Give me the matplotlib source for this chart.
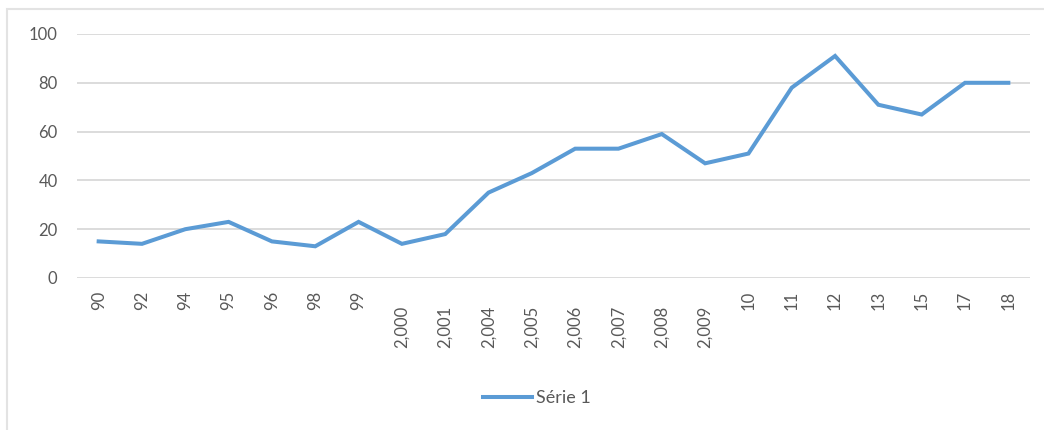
import matplotlib
matplotlib.use("Agg")
import matplotlib.pyplot as plt
from matplotlib.patches import Rectangle
from matplotlib.transforms import blended_transform_factory, offset_copy

plt.rcParams['font.family'] = ['Lato', 'DejaVu Sans']

# Year labels as shown on the category axis
categories = ["90", "92", "94", "95", "96", "98", "99", "2,000", "2,001",
              "2,004", "2,005", "2,006", "2,007", "2,008", "2,009",
              "10", "11", "12", "13", "15", "17", "18"]
serie1 = [15, 14, 20, 23, 15, 13, 23, 14, 18, 35, 43, 53, 53, 59, 47,
          51, 78, 91, 71, 67, 80, 80]
yticks = [0, 20, 40, 60, 80, 100]
series_name = "Série 1"

W, H, DPI = 1044, 430, 100
TEXT = "#595959"
GRID = "#D9D9D9"
BLUE = "#5B9BD5"
FS = 12

fig = plt.figure(figsize=(W / DPI, H / DPI), dpi=DPI)
fig.patch.set_facecolor("white")

# Light chart-area border
fig.patches.append(Rectangle((7 / W, 1 - 1000 / H), 1100 / W, (1000 - 9) / H,
                             transform=fig.transFigure, fill=False,
                             edgecolor="#E3E3E3", linewidth=1.5))

ax = fig.add_axes([77 / W, 1 - 278 / H, (1030 - 77) / W, (278 - 34) / H])
x = list(range(len(categories)))
line, = ax.plot(x, serie1, color=BLUE, linewidth=2.9, solid_joinstyle="miter",
                label=series_name, zorder=3)

ax.set_xlim(-0.5, len(categories) - 0.5)
ax.set_ylim(0, 100)
ax.set_yticks(yticks)
ax.set_yticklabels([str(v) for v in yticks], color=TEXT, fontsize=FS)
ax.tick_params(axis="y", length=0, pad=14)
ax.grid(axis="y", color=GRID, linewidth=1.3)
ax.set_axisbelow(True)
for s in ax.spines.values():
    s.set_visible(False)

# Rotated category labels; longer labels sit a little lower
ax.set_xticks(x)
ax.set_xticklabels([])
ax.tick_params(axis="x", length=0)
trans = blended_transform_factory(ax.transData, ax.transAxes)
for xi, lab in zip(x, categories):
    drop = 15 if len(lab) > 3 else 0
    t = offset_copy(trans, fig=fig, x=0, y=-(13 + drop) * 72 / DPI, units="points")
    ax.text(xi, 0, lab, transform=t, rotation=90, ha="center", va="top",
            color=TEXT, fontsize=FS)

fig.legend(handles=[line], loc="center", bbox_to_anchor=(537 / W, 1 - 398 / H),
           frameon=False, fontsize=13, labelcolor=TEXT, handlelength=2.7,
           handletextpad=0.2)

fig.savefig("out.png", dpi=DPI)
